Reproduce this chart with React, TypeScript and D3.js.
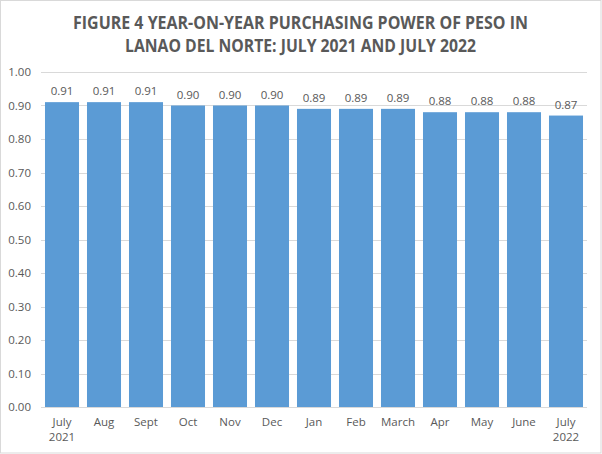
import React from "react";
import * as d3 from "d3";

const categories: string[][] = [
  ["July", "2021"], ["Aug"], ["Sept"], ["Oct"], ["Nov"], ["Dec"], ["Jan"],
  ["Feb"], ["March"], ["Apr"], ["May"], ["June"], ["July", "2022"],
];
const values: number[] = [0.91, 0.91, 0.91, 0.90, 0.90, 0.90, 0.89, 0.89, 0.89, 0.88, 0.88, 0.88, 0.87];
const yTicks: number[] = [0, 0.1, 0.2, 0.3, 0.4, 0.5, 0.6, 0.7, 0.8, 0.9, 1.0];
const titleLines: string[] = [
  "FIGURE 4 YEAR-ON-YEAR PURCHASING POWER OF PESO IN",
  "LANAO DEL NORTE: JULY 2021 AND JULY 2022",
];
const titleWidths: number[] = [455, 351];

const W = 602;
const H = 454;
const left = 41;
const right = 587;
const top = 72;
const bottom = 407;
const FONT = "Open Sans, Lato, sans-serif";
const TXT = "#595959";

export default function App() {
  const ids = values.map((_, i) => String(i));
  const x = d3.scaleBand<string>().domain(ids).range([left, right]).paddingInner(0.19).paddingOuter(0.095);
  const y = d3.scaleLinear().domain([0, 1]).range([bottom, top]);

  return (
    <svg width={W} height={H} style={{ position: "absolute", left: 0, top: 0, background: "#fff" }} fontFamily={FONT}>
      <rect x={0.5} y={0.5} width={W - 1.5} height={H - 1.5} fill="#fff" stroke="#D9D9D9" />
      {titleLines.map((t, i) => (
        <text key={i} x={300.5} y={29 + i * 23} textAnchor="middle" fontSize={17} fontWeight="bold" fill={TXT}
          textLength={titleWidths[i]} lengthAdjust="spacingAndGlyphs">
          {t}
        </text>
      ))}
      {yTicks.map((t) => (
        <g key={t}>
          <line x1={left} x2={right} y1={Math.round(y(t)) + 0.5} y2={Math.round(y(t)) + 0.5} stroke="#D9D9D9" />
          <text x={31} y={y(t) + 4} textAnchor="end" fontSize={11.5} fill={TXT}>
            {t.toFixed(2)}
          </text>
        </g>
      ))}
      {values.map((v, i) => (
        <g key={i}>
          <rect x={x(ids[i])!} y={y(v)} width={x.bandwidth()} height={y(0) - y(v)} fill="#5B9BD5" />
          <text x={x(ids[i])! + x.bandwidth() / 2} y={y(v) - 7} textAnchor="middle" fontSize={11.5} fill={TXT}>
            {v.toFixed(2)}
          </text>
        </g>
      ))}
      <line x1={left} x2={right} y1={bottom + 0.5} y2={bottom + 0.5} stroke="#D9D9D9" />
      {categories.map((c, i) =>
        c.map((s, j) => (
          <text key={i + "-" + j} x={x(ids[i])! + x.bandwidth() / 2} y={426 + j * 15} textAnchor="middle" fontSize={11.5} fill={TXT}>
            {s}
          </text>
        ))
      )}
    </svg>
  );
}
